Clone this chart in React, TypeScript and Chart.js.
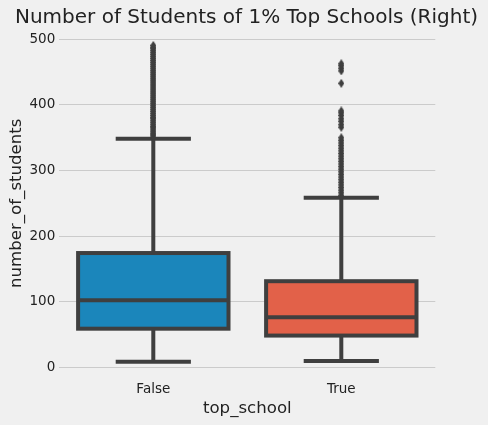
import React, { useEffect, useRef } from 'react';
import { Chart, registerables } from 'chart.js';

Chart.register(...registerables);

const TITLE = 'Number of Students of 1% Top Schools (Right)';
const X_TITLE = 'top_school';
const Y_TITLE = 'number_of_students';
const CATEGORIES = ['False', 'True'];
const Q1 = [58.5, 48];
const MEDIAN = [102, 76];
const Q3 = [174, 131];
const WHISKER_LOW = [8, 9];
const WHISKER_HIGH = [348.5, 258.5];
const OUTLIERS_FALSE = [
  351, 354, 356, 359, 362, 365, 367, 370, 373, 376, 379, 381, 384, 387, 390, 393,
  396, 399, 402, 405, 408, 411, 414, 417, 420, 423, 426, 429, 432, 435, 438, 441,
  444, 447, 450, 453, 456, 459, 462, 465, 468, 471, 474, 477, 480, 483, 486, 488, 491,
];
const OUTLIERS_TRUE = [
  262, 266, 270, 274, 278, 282, 286, 290, 294, 298, 302, 306, 310, 314, 318, 322,
  326, 330, 334, 338, 342, 346, 350, 366, 370, 375, 379, 384, 388, 391, 433, 452,
  456, 460, 463,
];
const Y_TICKS = [0, 100, 200, 300, 400, 500];
const Y_MIN = -16;
const Y_MAX = 516;
const BOX_COLORS = ['#1b86bb', '#e26149'];
const LINE_COLOR = '#3f3f3f';
const TEXT_COLOR = '#222222';
const BG = '#f0f0f0';
const FONT = '"DejaVu Sans", sans-serif';

function makeDiamond(): HTMLCanvasElement {
  const c = document.createElement('canvas');
  c.width = 6;
  c.height = 9;
  const g = c.getContext('2d')!;
  g.fillStyle = LINE_COLOR;
  g.beginPath();
  g.moveTo(3, 0);
  g.lineTo(6, 4.5);
  g.lineTo(3, 9);
  g.lineTo(0, 4.5);
  g.closePath();
  g.fill();
  return c;
}

const boxPlugin = {
  id: 'boxWhiskers',
  beforeDraw(chart: any) {
    const ctx = chart.ctx;
    ctx.save();
    ctx.fillStyle = BG;
    ctx.fillRect(0, 0, chart.width, chart.height);
    ctx.restore();
  },
  beforeDatasetsDraw(chart: any) {
    const meta = chart.getDatasetMeta(0);
    const ys = chart.scales.y;
    const ctx = chart.ctx;
    ctx.save();
    ctx.strokeStyle = LINE_COLOR;
    ctx.lineWidth = 4;
    ctx.lineCap = 'butt';
    meta.data.forEach((bar: any, i: number) => {
      const { x, width } = bar.getProps(['x', 'width'], true);
      const yHi = ys.getPixelForValue(WHISKER_HIGH[i]);
      const yLo = ys.getPixelForValue(WHISKER_LOW[i]);
      const yQ3 = ys.getPixelForValue(Q3[i]);
      const yQ1 = ys.getPixelForValue(Q1[i]);
      ctx.beginPath();
      ctx.moveTo(x, yQ3);
      ctx.lineTo(x, yHi);
      ctx.moveTo(x, yQ1);
      ctx.lineTo(x, yLo);
      ctx.moveTo(x - width / 4, yHi);
      ctx.lineTo(x + width / 4, yHi);
      ctx.moveTo(x - width / 4, yLo);
      ctx.lineTo(x + width / 4, yLo);
      ctx.stroke();
    });
    ctx.restore();
  },
  afterDatasetsDraw(chart: any) {
    const meta = chart.getDatasetMeta(0);
    const ys = chart.scales.y;
    const ctx = chart.ctx;
    ctx.save();
    ctx.strokeStyle = LINE_COLOR;
    ctx.lineWidth = 4;
    meta.data.forEach((bar: any, i: number) => {
      const { x, width } = bar.getProps(['x', 'width'], true);
      const yQ3 = ys.getPixelForValue(Q3[i]);
      const yQ1 = ys.getPixelForValue(Q1[i]);
      const yMed = ys.getPixelForValue(MEDIAN[i]);
      ctx.strokeRect(x - width / 2, yQ3, width, yQ1 - yQ3);
      ctx.beginPath();
      ctx.moveTo(x - width / 2, yMed);
      ctx.lineTo(x + width / 2, yMed);
      ctx.stroke();
    });
    ctx.restore();
  },
  afterDraw(chart: any) {
    const ctx = chart.ctx;
    ctx.save();
    ctx.fillStyle = TEXT_COLOR;
    ctx.font = `20px ${FONT}`;
    ctx.textAlign = 'center';
    ctx.textBaseline = 'alphabetic';
    ctx.fillText(TITLE, 246.5, 23);
    ctx.restore();
  },
};

export default function App() {
  const ref = useRef<HTMLCanvasElement>(null);
  useEffect(() => {
    if (!ref.current) return;
    const diamond = makeDiamond();
    const chart = new Chart(ref.current, {
      type: 'bar',
      data: {
        labels: CATEGORIES,
        datasets: [
          {
            type: 'bar',
            data: Q1.map((q, i) => [q, Q3[i]]) as any,
            backgroundColor: BOX_COLORS,
            borderWidth: 0,
            barPercentage: 0.8,
            categoryPercentage: 1,
            order: 2,
          },
          {
            type: 'line',
            data: OUTLIERS_FALSE.map((v) => ({ x: CATEGORIES[0], y: v })) as any,
            showLine: false,
            pointStyle: diamond as any,
            pointRadius: 4,
            order: 1,
          },
          {
            type: 'line',
            data: OUTLIERS_TRUE.map((v) => ({ x: CATEGORIES[1], y: v })) as any,
            showLine: false,
            pointStyle: diamond as any,
            pointRadius: 4,
            order: 1,
          },
        ],
      },
      options: {
        responsive: false,
        animation: false,
        events: [],
        layout: { padding: { top: 29, right: 52.7, left: 0, bottom: 0 } },
        plugins: { legend: { display: false }, tooltip: { enabled: false } },
        scales: {
          x: {
            type: 'category',
            offset: true,
            grid: { display: false, drawTicks: false },
            border: { display: false },
            ticks: { font: { family: FONT, size: 13.5 }, color: TEXT_COLOR, padding: 4 },
            title: {
              display: true,
              text: X_TITLE,
              font: { family: FONT, size: 16.6 },
              color: TEXT_COLOR,
              padding: { top: 0, bottom: 6 },
            },
            afterFit: (s: any) => {
              s.height = 47.5;
            },
          },
          y: {
            type: 'linear',
            min: Y_MIN,
            max: Y_MAX,
            grid: { color: '#cbcbcb', lineWidth: 1, drawTicks: false },
            border: { display: false },
            ticks: { font: { family: FONT, size: 13.5 }, color: TEXT_COLOR, padding: 4 },
            afterBuildTicks: (s: any) => {
              s.ticks = Y_TICKS.map((v) => ({ value: v }));
            },
            title: {
              display: true,
              text: Y_TITLE,
              font: { family: FONT, size: 16.6 },
              color: TEXT_COLOR,
              padding: { top: 6.4, bottom: 0 },
            },
            afterFit: (s: any) => {
              s.width = 59.3;
            },
          },
        },
      },
      plugins: [boxPlugin],
    });
    return () => chart.destroy();
  }, []);
  return (
    <div style={{ position: 'fixed', left: 0, top: 0, width: 488, height: 425, background: BG }}>
      <canvas ref={ref} width={488} height={425} />
    </div>
  );
}
